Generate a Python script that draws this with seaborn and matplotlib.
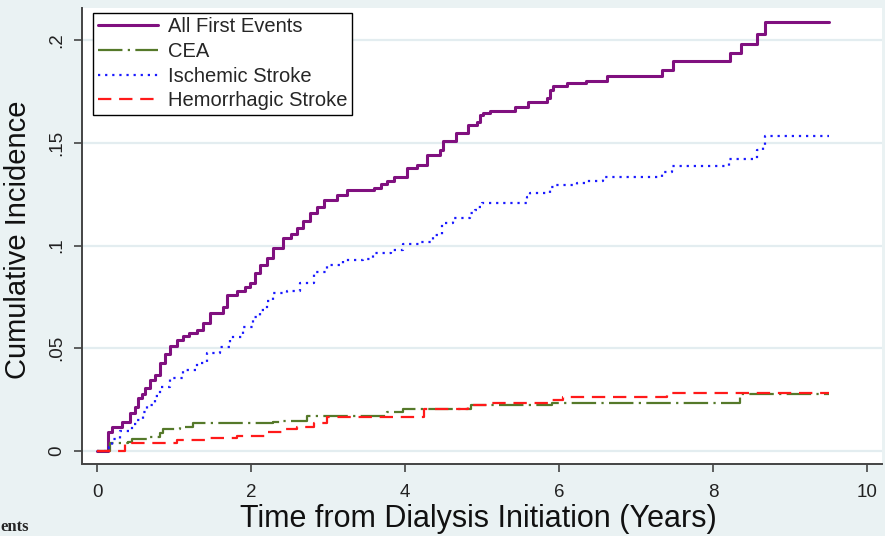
import matplotlib
matplotlib.use("Agg")
import matplotlib.pyplot as plt
import seaborn as sns

# step points (years, cumulative incidence)
all_t = [0, 0.14, 0.19, 0.33, 0.43, 0.49, 0.53, 0.58, 0.62, 0.69, 0.75, 0.82, 0.88, 0.95,
         1.04, 1.12, 1.2, 1.3, 1.38, 1.47, 1.64, 1.69, 1.82, 1.92, 1.99, 2.05, 2.12, 2.2,
         2.29, 2.42, 2.52, 2.6, 2.68, 2.77, 2.86, 2.94, 3.11, 3.24, 3.6, 3.68, 3.77, 3.85,
         4.03, 4.15, 4.28, 4.45, 4.49, 4.66, 4.82, 4.93, 4.97, 5.01, 5.1, 5.43, 5.6, 5.84,
         5.88, 5.92, 6.1, 6.35, 6.62, 7.34, 7.48, 8.22, 8.36, 8.57, 8.67, 9.5]
all_v = [0, 0.0092, 0.0117, 0.014, 0.0185, 0.0214, 0.0258, 0.028, 0.0307, 0.0345, 0.037,
         0.043, 0.047, 0.051, 0.054, 0.056, 0.0575, 0.059, 0.0625, 0.067, 0.070, 0.076,
         0.078, 0.080, 0.082, 0.0865, 0.0905, 0.094, 0.099, 0.1036, 0.1055, 0.1085, 0.112,
         0.116, 0.119, 0.122, 0.1245, 0.127, 0.128, 0.130, 0.1315, 0.1335, 0.1375, 0.139,
         0.144, 0.1465, 0.151, 0.1547, 0.1586, 0.160, 0.1635, 0.1645, 0.1655, 0.1674, 0.170,
         0.1718, 0.1757, 0.1776, 0.179, 0.180, 0.1825, 0.1854, 0.190, 0.1937, 0.198, 0.2029,
         0.2088, 0.2088]

cea_t = [0, 0.17, 0.4, 0.46, 0.65, 0.82, 0.86, 1.08, 1.25, 2.29, 2.38, 2.73, 3.77, 3.97,
         4.85, 5.9, 8.35, 9.5]
cea_v = [0, 0.0039, 0.0044, 0.0058, 0.0068, 0.0086, 0.0107, 0.0117, 0.0136, 0.0141, 0.0146,
         0.017, 0.019, 0.0204, 0.0224, 0.0234, 0.0277, 0.0277]

isch_t = [0, 0.15, 0.2, 0.3, 0.45, 0.52, 0.6, 0.65, 0.75, 0.82, 0.95, 1.12, 1.3, 1.43, 1.6,
          1.73, 1.9, 2.03, 2.12, 2.2, 2.29, 2.47, 2.64, 2.81, 2.99, 3.19, 3.45, 3.58, 3.81,
          3.97, 4.19, 4.36, 4.48, 4.62, 4.84, 4.91, 4.95, 5.0, 5.58, 5.62, 5.88, 5.95, 6.23,
          6.36, 6.57, 6.6, 7.34, 7.47, 8.21, 8.57, 8.65, 8.67, 9.5]
isch_v = [0, 0.002, 0.006, 0.010, 0.013, 0.015, 0.019, 0.0224, 0.027, 0.031, 0.0355, 0.0394,
          0.043, 0.0477, 0.0506, 0.0555, 0.0603, 0.0652, 0.0686, 0.073, 0.077, 0.078, 0.0817,
          0.087, 0.0905, 0.093, 0.0937, 0.0962, 0.0978, 0.101, 0.1017, 0.105, 0.111, 0.1134,
          0.1158, 0.1173, 0.1187, 0.1207, 0.1236, 0.1255, 0.1285, 0.1294, 0.1304, 0.1314,
          0.1323, 0.1333, 0.1358, 0.1387, 0.142, 0.1465, 0.148, 0.1533, 0.1533]

hem_t = [0, 0.36, 1.04, 1.43, 1.82, 2.21, 2.42, 2.6, 2.81, 2.99, 4.24, 4.82, 5.1, 5.88, 6.05,
         7.4, 9.5]
hem_v = [0, 0.0039, 0.0053, 0.0063, 0.0073, 0.0092, 0.0107, 0.0117, 0.0136, 0.0165, 0.0204,
         0.0224, 0.0234, 0.0248, 0.0263, 0.0282, 0.0282]

x_ticks = [0, 2, 4, 6, 8, 10]
y_ticks = [0, 0.05, 0.1, 0.15, 0.2]
y_tick_labels = ["0", ".05", ".1", ".15", ".2"]

bg = "#eaf2f3"
sns.set_theme(style="white")
plt.rcParams["font.family"] = ["Liberation Sans", "DejaVu Sans"]

fig = plt.figure(figsize=(8.85, 5.36), dpi=100, facecolor=bg)
ax = fig.add_axes([0.0927, 0.1362, 0.9039, 0.8489])
ax.set_facecolor("white")

sns.lineplot(x=all_t, y=all_v, ax=ax, color="#80107f", lw=2.2,
             drawstyle="steps-post", label="All First Events")
sns.lineplot(x=cea_t, y=cea_v, ax=ax, color="#55792a", lw=1.6,
             linestyle=(0, (11, 2.4, 1, 2.4)), drawstyle="steps-post", label="CEA")
sns.lineplot(x=isch_t, y=isch_v, ax=ax, color="#1a1aff", lw=1.6,
             linestyle=(0, (1, 2.2)), drawstyle="steps-post", label="Ischemic Stroke")
sns.lineplot(x=hem_t, y=hem_v, ax=ax, color="#ff1a1a", lw=1.6,
             linestyle=(0, (6, 3.5)), drawstyle="steps-post", label="Hemorrhagic Stroke")

ax.set_xlim(-0.195, 10.19)
ax.set_ylim(-0.0058, 0.2156)
ax.set_xticks(x_ticks)
ax.set_yticks(y_ticks)
ax.set_yticklabels(y_tick_labels, rotation=90, va="center")
ax.yaxis.grid(True, color="#e3edf0", lw=1.6)
ax.xaxis.grid(False)
ax.set_axisbelow(True)

for side in ["top", "right"]:
    ax.spines[side].set_visible(False)
for side in ["left", "bottom"]:
    ax.spines[side].set_color("#444444")
    ax.spines[side].set_linewidth(1.4)
ax.spines["bottom"].set_position(("outward", 1))

ax.tick_params(axis="both", direction="out", length=6, width=1.2, color="#444444",
               labelsize=13.5, labelcolor="#222222", bottom=True, left=True)
ax.tick_params(axis="x", pad=8)
ax.tick_params(axis="y", pad=6)

ax.set_xlabel("Time from Dialysis Initiation (Years)", fontsize=22, color="#111111")
ax.set_ylabel("Cumulative Incidence", fontsize=21, color="#111111")
ax.xaxis.set_label_coords(0.495, -0.09)
ax.yaxis.set_label_coords(-0.062, 0.49)

leg = ax.legend(loc="upper left", bbox_to_anchor=(0.014, 0.989), borderaxespad=0,
                fontsize=14.5, frameon=True, fancybox=False, framealpha=1,
                edgecolor="black", handlelength=3.0, handletextpad=0.5,
                labelspacing=0.28, borderpad=0.22)
leg.get_frame().set_linewidth(1.0)

fig.text(0.0, 0.001, "ents", fontsize=12, fontweight="bold",
         family=["Liberation Serif", "DejaVu Serif"], va="bottom", ha="left")

fig.savefig("out.png", dpi=100, facecolor=bg)
